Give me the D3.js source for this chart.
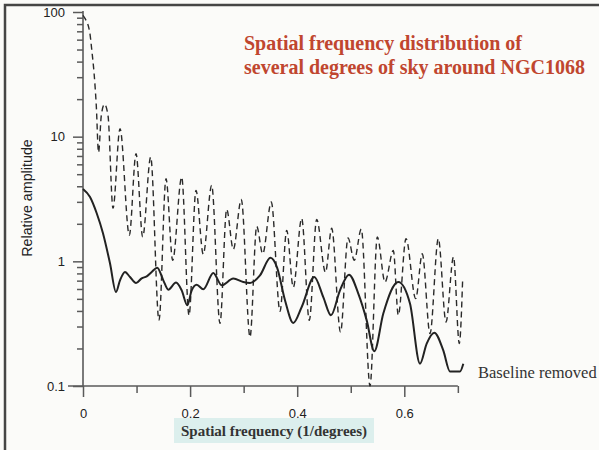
<!DOCTYPE html>
<html><head><meta charset="utf-8">
<script src="https://cdn.jsdelivr.net/npm/d3@7"></script>
<style>html,body{margin:0;padding:0;background:#fbfbf9;}svg{display:block;}</style>
</head><body>
<svg id="c" width="599" height="450"></svg>
<script>
// Dashed curve (original spectrum)
const rawFreq = [0,0.0037,0.0125,0.0168,0.0205,0.0248,0.029,0.0342,0.0401,0.0467,0.056,0.0691,0.0865,0.099,0.1115,0.1264,0.1419,0.155,0.1675,0.1843,0.198,0.211,0.2246,0.2403,0.2558,0.2683,0.2807,0.2956,0.3119,0.3244,0.3356,0.3516,0.3679,0.3804,0.3927,0.4084,0.4226,0.4364,0.4528,0.4644,0.4809,0.4949,0.5066,0.5197,0.536,0.5496,0.564,0.5795,0.5888,0.6032,0.6213,0.6336,0.648,0.6635,0.6779,0.6919,0.7027,0.709];
const rawAmp = [94,88.9,69,47.7,33,17.8,7.48,14.8,18.2,14.8,2.66,11.6,1.62,7.31,1.57,6.86,0.336,4.6,1.02,4.74,0.369,3.71,1.14,4.07,0.318,2.61,1.25,3.14,0.247,1.91,1.15,2.99,0.397,1.77,0.619,2.21,0.336,2.17,0.816,1.84,0.27,1.54,1.02,1.81,0.1,1.57,0.682,1.22,0.369,1.52,0.502,1.15,0.263,1.52,0.326,1.087,0.219,0.726];
// Solid curve (baseline removed)
const blFreq = [0,0.0131,0.0256,0.0373,0.0504,0.0616,0.0691,0.0784,0.0878,0.099,0.1096,0.119,0.1283,0.1387,0.15,0.1593,0.1737,0.1843,0.1948,0.203,0.2123,0.2247,0.2433,0.259,0.2807,0.2993,0.3119,0.3305,0.3501,0.3623,0.3772,0.3927,0.4084,0.4319,0.4487,0.4631,0.4799,0.4967,0.5141,0.5298,0.544,0.5608,0.5888,0.6106,0.6293,0.6418,0.656,0.6728,0.6853,0.704,0.7102];
const blAmp = [3.81,3.28,2.43,1.68,0.964,0.567,0.704,0.821,0.748,0.67,0.731,0.758,0.821,0.89,0.704,0.593,0.675,0.585,0.444,0.585,0.65,0.596,0.806,0.642,0.727,0.682,0.67,0.772,1.067,0.895,0.487,0.32,0.43,0.748,0.517,0.369,0.585,0.782,0.551,0.336,0.19,0.381,0.682,0.458,0.151,0.219,0.268,0.193,0.131,0.131,0.151];
const xMajor = [0,0.2,0.4,0.6];
const xMinor = [0.1,0.3,0.5,0.7];
const yMajor = [0.1,1,10,100];
const yLabels = ["0.1","1","10","100"];
const titleLines = ["Spatial frequency distribution of","several degrees of sky around NGC1068"];

const svg = d3.select("#c");
svg.append("rect").attr("x",0).attr("y",0).attr("width",599).attr("height",450).attr("fill","#fbfbf9");
svg.append("rect").attr("x",5).attr("y",5).attr("width",700).attr("height",600)
  .attr("fill","none").attr("stroke","#454545").attr("stroke-width",2.5);

const x = d3.scaleLinear().domain([0,0.7]).range([83,457.85]);
const y = d3.scaleLog().domain([0.1,100]).range([386,12]);

const axisCol = "#5a5a5a";
// x axis
svg.append("line").attr("x1",68).attr("x2",x(0.7)).attr("y1",386).attr("y2",386).attr("stroke",axisCol).attr("stroke-width",1.6);
const xa = svg.append("g").attr("transform","translate(0,386)")
  .call(d3.axisBottom(x).tickValues(xMajor).tickSize(11).tickFormat(d3.format(".1~f")).tickPadding(12));
xa.select(".domain").remove();
const xm = svg.append("g").attr("transform","translate(0,386)")
  .call(d3.axisBottom(x).tickValues(xMinor).tickSize(7).tickFormat(""));
xm.select(".domain").remove();
// y axis
svg.append("line").attr("x1",83).attr("x2",83).attr("y1",386).attr("y2",11).attr("stroke",axisCol).attr("stroke-width",1.6);
const yMinor = [];
[0.1,1,10].forEach(d=>{for(let k=2;k<=9;k++) yMinor.push(d*k);});
const ya = svg.append("g").attr("transform","translate(83,0)")
  .call(d3.axisLeft(y).tickValues(yMajor).tickSize(10).tickFormat((d,i)=>yLabels[i]).tickPadding(8));
ya.select(".domain").remove();
const ym = svg.append("g").attr("transform","translate(83,0)")
  .call(d3.axisLeft(y).tickValues(yMinor).tickSize(6).tickFormat(""));
ym.select(".domain").remove();
svg.selectAll(".tick line").attr("stroke",axisCol).attr("stroke-width",1.5);
svg.selectAll(".tick text").attr("fill","#222").style("font-family","'Liberation Sans',Arial,sans-serif").style("font-size","13px");

// curves
const line = d3.line().x(d=>x(d[0])).y(d=>y(Math.max(d[1],0.1))).curve(d3.curveMonotoneX);
const rawData = rawFreq.map((f,i)=>[f,rawAmp[i]]);
const blData = blFreq.map((f,i)=>[f,blAmp[i]]);
svg.append("path").attr("d",line(rawData)).attr("fill","none").attr("stroke","#2a2a2a")
  .attr("stroke-width",1.4).attr("stroke-dasharray","6,4");
svg.append("path").attr("d",line(blData)).attr("fill","none").attr("stroke","#222")
  .attr("stroke-width",2);

// labels
svg.append("text").attr("x",478).attr("y",378).text("Baseline removed")
  .attr("fill","#333").style("font-family","'Liberation Serif','Times New Roman',serif").style("font-size","16.5px");

svg.append("text").attr("transform","translate(32,198) rotate(-90)").attr("text-anchor","middle")
  .text("Relative amplitude").attr("fill","#222")
  .style("font-family","'Liberation Sans',Arial,sans-serif").style("font-size","14.3px");

svg.append("rect").attr("x",174).attr("y",418).attr("width",200).attr("height",25).attr("fill","#dcefed");
svg.append("text").attr("x",274).attr("y",436).attr("text-anchor","middle").text("Spatial frequency (1/degrees)")
  .attr("fill","#333").style("font-family","'Liberation Serif','Times New Roman',serif").style("font-weight","bold").style("font-size","15px");

titleLines.forEach((t,i)=>{
  svg.append("text").attr("x",244).attr("y",50+i*24).text(t)
    .attr("fill","#c0462f").style("font-family","'Liberation Serif','Times New Roman',serif")
    .style("font-weight","bold").style("font-size","20px");
});
</script>
</body></html>
